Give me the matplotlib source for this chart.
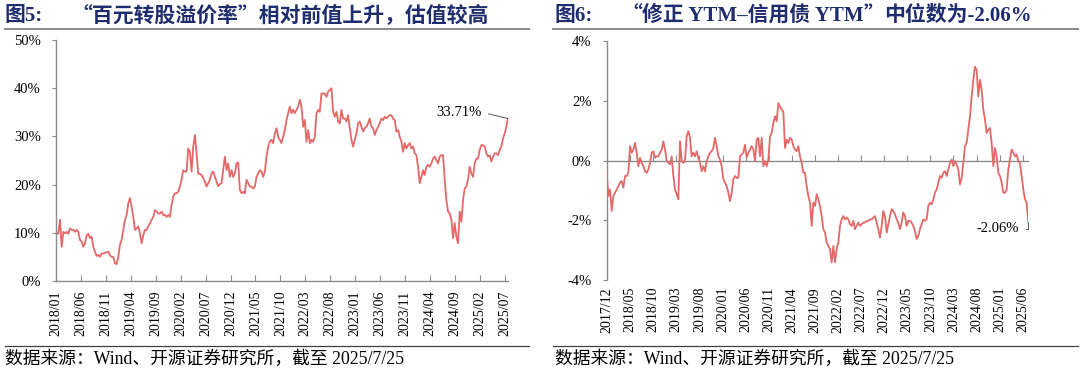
import numpy as np
import matplotlib.pyplot as plt
from matplotlib.lines import Line2D
from matplotlib.ticker import FuncFormatter

plt.rcParams['axes.unicode_minus'] = False

# ---- data ----
# 图5: 百元转股溢价率 (%), evenly spaced samples 2018/01 -> 2025/07/25
PREMIUM = [
    9.9, 9.8, 12.7, 7.1, 10.2, 9.9, 10.2, 9.8, 10.9, 10.6,
    10.6, 10.2, 10.6, 10.2, 8.5, 8.2, 7.1, 7.8, 9.5, 9.8,
    8.9, 9.2, 7.1, 6.1, 5.2, 5.4, 5.0, 5.7, 5.7, 5.9,
    5.9, 6.1, 5.4, 5.0, 5.0, 3.7, 3.5, 5.0, 7.5, 8.5,
    10.6, 12.7, 13.7, 16.1, 17.2, 15.4, 13.3, 10.6, 10.9, 11.3,
    9.9, 7.8, 9.5, 10.6, 10.6, 11.3, 12.0, 12.7, 13.3, 14.7,
    14.4, 14.0, 14.0, 14.4, 13.7, 13.7, 13.3, 13.7, 13.3, 15.8,
    17.5, 18.2, 18.2, 18.5, 19.6, 21.0, 23.0, 22.7, 22.7, 27.5,
    26.8, 22.7, 27.9, 30.3, 26.5, 22.3, 22.2, 22.0, 21.3, 20.6,
    19.6, 20.3, 21.0, 22.3, 22.7, 21.6, 20.6, 19.7, 20.1, 20.3,
    23.0, 25.8, 23.0, 24.4, 21.6, 23.0, 21.6, 22.3, 24.4, 24.6,
    18.9, 18.2, 18.5, 18.2, 21.0, 20.3, 19.6, 19.6, 19.2, 19.6,
    21.6, 22.3,
    23.0, 22.7, 21.6, 22.7, 25.8, 27.9, 28.9, 29.3, 28.6, 30.6,
    31.7, 29.9, 29.3, 28.6, 29.9, 31.3, 33.4, 34.8, 36.2, 34.8,
    35.5, 34.8, 35.5, 36.2, 37.6, 36.2, 32.0, 33.4, 28.9, 31.3,
    28.6, 29.3, 28.9, 29.9, 34.8, 35.5, 35.1, 38.9, 38.9, 38.9,
    38.2, 39.3, 39.6, 40.0, 35.1, 34.1, 35.1, 33.1, 32.7, 35.5,
    33.7, 33.7, 33.1, 34.4, 31.7, 29.3, 27.9, 29.3, 30.6, 32.7,
    33.1, 32.0, 31.0, 31.7, 32.0, 32.7, 33.7, 32.0, 31.7, 30.3,
    31.3, 32.0, 32.7, 33.7, 33.4, 34.1, 33.7, 34.1, 34.4, 34.4,
    33.7, 33.4, 31.0, 31.3, 29.9, 28.9, 26.8, 28.6, 27.5, 28.2,
    28.6, 27.5, 27.9, 26.5, 26.1, 23.7, 20.3, 21.6, 23.0, 22.0,
    23.7, 24.1, 23.7, 24.4, 25.4, 25.8, 25.1, 24.4, 25.8, 26.1,
    26.1, 21.0, 16.8, 14.4, 14.0, 12.7, 8.9, 12.0, 9.2, 7.8,
    14.4, 12.3, 16.8, 19.2, 19.6, 21.0, 23.7, 22.3, 21.6, 24.4,
    25.4, 25.4, 27.2, 28.2, 28.2, 27.9, 26.5, 25.8, 26.1, 24.8,
    25.8, 26.5, 26.5, 26.1, 27.2, 27.9, 29.6, 30.6, 32.0, 33.71,
]
PREMIUM_TICKS = ["2018/01", "2018/06", "2018/11", "2019/04", "2019/09", "2020/02",
                 "2020/07", "2020/12", "2021/05", "2021/10", "2022/03", "2022/08",
                 "2023/01", "2023/06", "2023/11", "2024/04", "2024/09", "2025/02",
                 "2025/07"]

# 图6: 修正YTM - 信用债YTM 中位数 (%), evenly spaced samples 2017/12 -> 2025/07/25
YTM_GAP = [
    -0.41, -1.19, -0.97, -1.69, -1.19, -1.08, -0.97, -0.86, -0.74, -0.69,
    -0.91, -0.52, -0.52, -0.41, 0.48, 0.26, 0.37, 0.59, 0.26, -0.19,
    0.09, -0.08, -0.19, -0.36, -0.41, -0.30, -0.08, 0.26, 0.31, 0.09,
    0.14, 0.14, 0.26, 0.37, 0.64, 0.37, -0.02, -0.08, -0.13, 0.14,
    -0.52, -0.97, -1.13, -1.30, 0.64, -0.02, -0.08, 0.03, 0.81, 0.98,
    0.76, 0.14, 0.26, 0.14, 0.31, 0.09, -0.08, -0.36, -0.19, -0.36,
    -0.02, 0.14, 0.26, 0.31, 0.42, 0.76, 0.48, 0.14, 0.03, -0.19,
    -0.63, -0.74, -0.86, -1.08, -1.36, -1.08, -0.63, -0.52, -0.58, -0.58,
    0.14, 0.20, 0.26, 0.53, 0.09, 0.26, 0.37, 0.48, 0.37, -0.02,
    0.70, 0.76, 0.14, 0.76, -0.19, -0.02, -0.19, 0.03, 0.81, 0.92,
    1.26, 1.48, 1.31, 1.92, 1.81, 1.70, 1.64, 0.42, 0.70, 0.59,
    0.76, 0.70, 0.48, 0.37, 0.31, 0.48,
    0.14, -0.08, -0.41, -0.41, -0.86, -1.19, -1.41, -2.19, -1.41, -1.52,
    -1.13, -1.30, -1.52, -1.86, -2.30, -2.41, -2.74, -2.86, -2.97, -3.41,
    -2.86, -3.41, -2.97, -2.74, -2.19, -1.97, -1.86, -1.97, -1.91, -1.97,
    -2.13, -2.19, -2.02, -2.30, -2.19, -2.08, -2.19, -2.13, -2.08, -2.08,
    -2.02, -2.02, -1.97, -1.97, -1.91, -1.86, -2.08, -2.30, -2.58, -2.19,
    -1.69, -1.86, -2.41, -2.13, -1.86, -1.63, -1.69, -1.80, -1.97, -2.08,
    -2.30, -2.08, -1.74, -1.86, -2.19, -2.02, -2.02, -2.08, -2.19, -2.36,
    -2.63, -2.52, -2.30, -2.13, -1.97, -2.02, -1.97, -1.52, -1.41, -1.47,
    -1.30, -1.08, -0.97, -0.74, -0.52, -0.58, -0.41, -0.36, -0.52, -0.30,
    -0.08, 0.03, -0.19, -0.02, -0.13, -0.30, -0.80, -0.58, -0.08, 0.48,
    0.59, 1.03, 1.48, 2.14, 2.70, 3.14, 3.03, 2.14, 2.70, 2.37,
    1.70, 1.37, 0.92, 1.03, 1.09, 0.59, -0.19, 0.42, 0.14, -0.41,
    -0.52, -0.74, -1.08, -1.08, -0.97, -0.30, 0.03, 0.37, 0.26, 0.14,
    0.20, -0.02, -0.08, -0.52, -0.97, -1.30, -1.41, -2.06,
]
YTM_TICKS = ["2017/12", "2018/05", "2018/10", "2019/03", "2019/08", "2020/01",
             "2020/06", "2020/11", "2021/04", "2021/09", "2022/02", "2022/07",
             "2022/12", "2023/05", "2023/10", "2024/03", "2024/08", "2025/01",
             "2025/06"]

SOURCE = "数据来源：Wind、开源证券研究所，截至 2025/7/25"

# ---- style ----
LINE_RED = "#E46868"
NAVY = "#1F2C6E"
AXIS_GRAY = "#8C8C8C"
SERIF = ["Liberation Serif", "Noto Sans CJK SC"]
CJK = ["Noto Sans CJK SC", "Liberation Serif"]
W, H = 1080, 371

# title pieces: (text, family) -- quotes taken from the CJK font so they are full width
TITLE_L = ("图5:", [("“百元转股溢价率”相对前值上升，估值较高", CJK)])
TITLE_R = ("图6:", [("“", CJK), ("修正 YTM–信用债 YTM", SERIF), ("”", CJK),
                    ("中位数为-2.06%", SERIF)])

fig = plt.figure(figsize=(W / 100, H / 100), dpi=100)
renderer = fig.canvas.get_renderer()


def pct(v, _):
    return f"{v:.0f}%"


def chain_text(x_px, y_px, pieces, **kw):
    """Write text pieces one after another on one baseline."""
    x = x_px / W
    for txt, fam in pieces:
        t = fig.text(x, 1 - y_px / H, txt, family=fam, va="baseline", ha="left", **kw)
        bb = t.get_window_extent(renderer=renderer)
        x = bb.x1 / fig.bbox.width


# --- left chart ---
ax1 = fig.add_axes([56 / W, 90 / H, 452 / W, 241 / H])
x1 = np.arange(len(PREMIUM))
ax1.plot(x1, PREMIUM, color=LINE_RED, lw=1.3, solid_joinstyle="round")
ax1.set_xlim(-0.4, len(PREMIUM) - 1)
ax1.set_ylim(0, 50)
ax1.set_yticks(np.arange(0, 51, 10))
ax1.yaxis.set_major_formatter(FuncFormatter(pct))
ax1.set_xticks(-0.4 + 14.97 * np.arange(len(PREMIUM_TICKS)))
ax1.set_xticklabels(PREMIUM_TICKS, rotation=90, va="top", ha="center")
ax1.tick_params(axis="x", direction="in", length=4, pad=7, color=AXIS_GRAY, width=0.8)
ax1.tick_params(axis="y", direction="out", length=3, pad=8, color=AXIS_GRAY, width=0.8)
ax1.annotate(f"{PREMIUM[-1]:.2f}%", xy=(x1[-1], PREMIUM[-1]), xytext=(-19, 4.5),
             textcoords="offset points", ha="right", va="center", fontsize=10.5,
             family=SERIF,
             arrowprops=dict(arrowstyle="-", color="#555555", lw=0.7,
                             relpos=(1, 0.5), shrinkA=3, shrinkB=0))

# --- right chart ---
ax2 = fig.add_axes([606.7 / W, 91 / H, 421.6 / W, 239 / H])
x2 = np.arange(len(YTM_GAP))
ax2.plot(x2, YTM_GAP, color=LINE_RED, lw=1.3, solid_joinstyle="round", zorder=3)
ax2.set_xlim(0, len(YTM_GAP) - 1)
ax2.set_ylim(-4, 4)
ax2.set_yticks(np.arange(-4, 5, 2))
ax2.yaxis.set_major_formatter(FuncFormatter(pct))
ytm_tick_pos = 0.2 + 13.86 * np.arange(len(YTM_TICKS))
ax2.spines["bottom"].set_position(("data", 0))
ax2.set_xticks(ytm_tick_pos)
ax2.tick_params(axis="x", direction="in", length=4, color=AXIS_GRAY, width=0.8,
                labelbottom=False)
ax2.tick_params(axis="y", direction="out", length=3, pad=8, color=AXIS_GRAY, width=0.8)
sec = ax2.secondary_xaxis("bottom")
sec.set_xticks(ytm_tick_pos)
sec.set_xticklabels(YTM_TICKS, rotation=90, va="top", ha="center")
sec.tick_params(length=0, pad=5)
sec.spines["bottom"].set_visible(False)
for lab in sec.get_xticklabels():
    lab.set_family(SERIF)
    lab.set_fontsize(10)
ax2.annotate(f"{YTM_GAP[-1]:.2f}%", xy=(x2[-1], YTM_GAP[-1]), xytext=(-7, -5),
             textcoords="offset points", ha="right", va="center", fontsize=10.5,
             family=SERIF,
             arrowprops=dict(arrowstyle="-", color="#555555", lw=0.7,
                             connectionstyle="angle,angleA=0,angleB=90,rad=0",
                             relpos=(1, 0.5), shrinkA=3, shrinkB=0))

for ax in (ax1, ax2):
    for s in ("top", "right"):
        ax.spines[s].set_visible(False)
    for s in ("left", "bottom"):
        ax.spines[s].set_color(AXIS_GRAY)
        ax.spines[s].set_linewidth(1.0)
    for lab in ax.get_xticklabels() + ax.get_yticklabels():
        lab.set_family(SERIF)
        lab.set_fontsize(10)
    for lab in ax.get_yticklabels():
        lab.set_fontsize(10.5)

# --- titles, rules, source notes ---
for x0, x_text, x_end, (fig_no, pieces) in ((5, 71, 529, TITLE_L), (555, 621, 1078, TITLE_R)):
    fig.text(x0 / W, 1 - 21 / H, fig_no, fontsize=15, fontweight="bold", color=NAVY,
             family=SERIF, va="baseline", ha="left")
    chain_text(x_text, 21, pieces, fontsize=15, fontweight="bold", color=NAVY)
    x_rule = x0 if x0 < 500 else x0 - 2
    fig.add_artist(Line2D([x_rule / W, x_end / W], [1 - 28.5 / H] * 2,
                          color="#8A8A8A", lw=1.4))
    fig.add_artist(Line2D([x_rule / W, x_end / W], [1 - 345.5 / H] * 2,
                          color="#404040", lw=0.9))
    fig.text(x0 / W, 1 - 359 / H, SOURCE, fontsize=12.8, family=SERIF,
             va="center", ha="left", color="black")

fig.savefig("out.png", dpi=100)
